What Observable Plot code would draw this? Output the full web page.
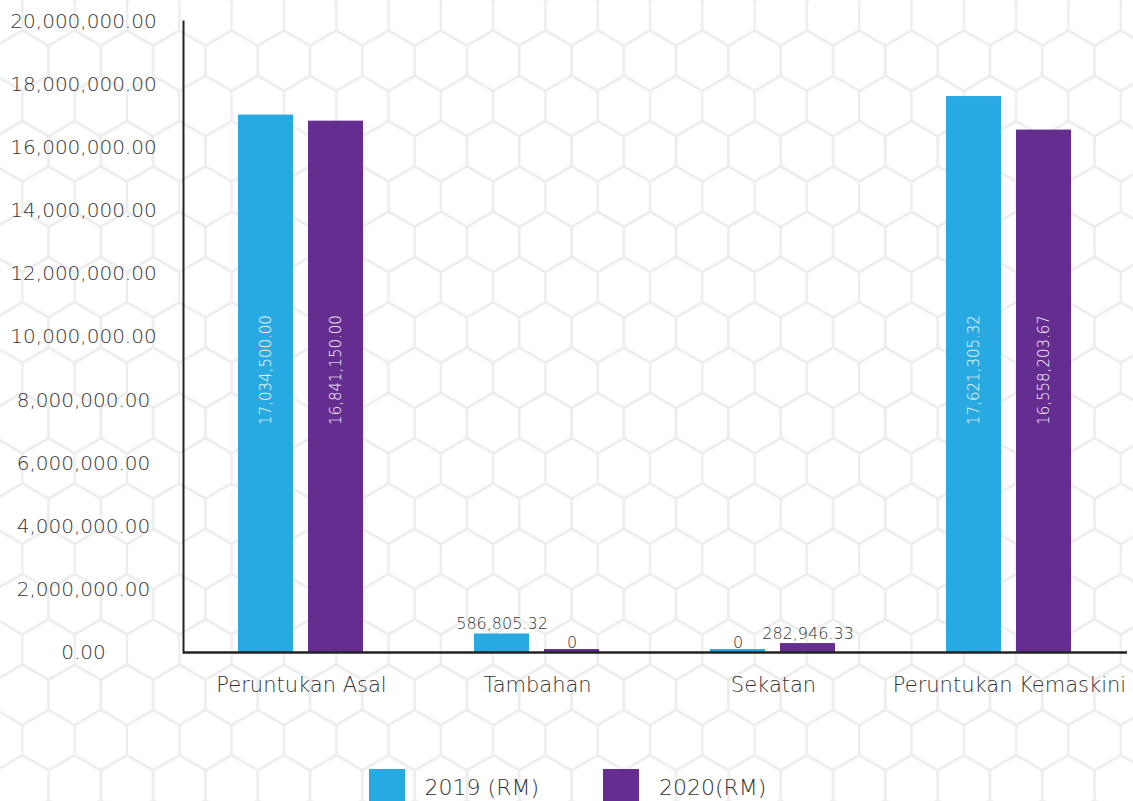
<!DOCTYPE html>
<html>
<head>
<meta charset="utf-8">
<script src="https://cdn.jsdelivr.net/npm/d3@7"></script>
<script src="https://cdn.jsdelivr.net/npm/@observablehq/plot@0.6"></script>
<style>
  html, body { margin: 0; padding: 0; background: #fff; }
  body { width: 1133px; height: 801px; overflow: hidden; position: relative; font-family: "DejaVu Sans", sans-serif; }
  #bg { position: absolute; left: 0; top: 0; z-index: 0; }
  #chart { position: relative; z-index: 1; }
  #chart svg { background: transparent; }
  .legend { position: relative; z-index: 1; display: flex; justify-content: center; align-items: center; margin-top: 49px; margin-left: 2px; }
  .item { display: flex; align-items: center; font-size: 22px; color: #333; font-weight: 300; }
  .item + .item { margin-left: 64px; }
  .sw { width: 36px; height: 36px; margin-right: 20px; }
</style>
</head>
<body>
<svg id="bg" width="1133" height="801"></svg>
<div id="chart"></div>
<div class="legend" id="legend"></div>
<script>
// ---- data ----
const categories = ["Peruntukan Asal", "Tambahan", "Sekatan", "Peruntukan Kemaskini"];
const series = ["2019 (RM)", "2020(RM)"];
const values2019 = [17034500.00, 586805.32, 0, 17621305.32];
const values2020 = [16841150.00, 0, 282946.33, 16558203.67];
const yTicks = [0, 2000000, 4000000, 6000000, 8000000, 10000000, 12000000, 14000000, 16000000, 18000000, 20000000];
const colors = ["#29a9e1", "#662d91"];

// ---- hexagon background ----
(function () {
  const w = 52.3, s = w / Math.sqrt(3), H = 3 * s;
  const ns = "http://www.w3.org/2000/svg";
  const bg = document.getElementById("bg");
  const defs = document.createElementNS(ns, "defs");
  const pat = document.createElementNS(ns, "pattern");
  pat.setAttribute("id", "hex");
  pat.setAttribute("patternUnits", "userSpaceOnUse");
  pat.setAttribute("width", w);
  pat.setAttribute("height", H);
  pat.setAttribute("x", 22.4);
  pat.setAttribute("y", 60.7);
  const hex = (cx, cy) => [[0, -s], [w / 2, -s / 2], [w / 2, s / 2], [0, s], [-w / 2, s / 2], [-w / 2, -s / 2]]
    .map(([dx, dy]) => `${cx + dx},${cy + dy}`).join(" ");
  [[0, 0], [w, 0], [w / 2, 1.5 * s], [0, H], [w, H]].forEach(([cx, cy]) => {
    const p = document.createElementNS(ns, "polygon");
    p.setAttribute("points", hex(cx, cy));
    p.setAttribute("fill", "none");
    p.setAttribute("stroke", "#ededed");
    p.setAttribute("stroke-width", 2.4);
    pat.appendChild(p);
  });
  defs.appendChild(pat);
  bg.appendChild(defs);
  const r = document.createElementNS(ns, "rect");
  r.setAttribute("width", 1133); r.setAttribute("height", 801); r.setAttribute("fill", "url(#hex)");
  bg.appendChild(r);
})();

// ---- chart ----
const data = categories.flatMap((c, i) => [
  {category: c, series: series[0], value: values2019[i]},
  {category: c, series: series[1], value: values2020[i]}
]);
const fmtTick = d3.format(",.2f");
const fmtLabel = v => v === 0 ? "0" : d3.format(",.2f")(v);
const FONT = "'DejaVu Sans', sans-serif";

const chart = Plot.plot({
  width: 1133,
  height: 720,
  marginTop: 21,
  marginBottom: 68,
  marginLeft: 183,
  marginRight: 6,
  style: {background: "transparent", fontFamily: FONT, fontSize: "20px", color: "#333", fontWeight: 300},
  fx: {domain: categories, padding: 0, label: null},
  x: {domain: series, paddingInner: 0.214, paddingOuter: 0.79, axis: null},
  y: {domain: [0, 20000000], label: null},
  color: {domain: series, range: colors},
  marks: [
    Plot.axisY({ticks: yTicks, tickFormat: fmtTick, tickSize: 0, tickPadding: 100, textAnchor: "middle", fontSize: 20, fill: "#333", label: null}),
    Plot.axisFx({anchor: "bottom", tickSize: 0, tickPadding: 25, fontSize: 21, fill: "#333", label: null}),
    Plot.barY(data.filter(d => d.value > 0), {fx: "category", x: "series", y: "value", fill: "series"}),
    Plot.barY(data.filter(d => d.value === 0), {fx: "category", x: "series", y: "value", fill: "series", insetTop: -3}),
    Plot.ruleY([0], {stroke: "#222", strokeWidth: 2.5}),
    Plot.frame({anchor: "left", facetAnchor: "left", stroke: "#222", strokeWidth: 2}),
    Plot.text(data.filter(d => d.value >= 5000000), {
      fx: "category", x: "series", text: d => fmtLabel(d.value), rotate: -90,
      frameAnchor: "middle", dy: 33, fill: "white", fontSize: 15
    }),
    Plot.text(data.filter(d => d.value < 5000000), {
      fx: "category", x: "series", y: "value", text: d => fmtLabel(d.value),
      lineAnchor: "bottom", dy: -5, fill: "#333", fontSize: 16
    })
  ]
});
document.getElementById("chart").appendChild(chart);

// ---- legend ----
const legend = document.getElementById("legend");
series.forEach((s, i) => {
  const it = document.createElement("div");
  it.className = "item";
  const sw = document.createElement("div");
  sw.className = "sw";
  sw.style.background = colors[i];
  const t = document.createElement("span");
  t.textContent = s;
  it.appendChild(sw); it.appendChild(t);
  legend.appendChild(it);
});
</script>
</body>
</html>
